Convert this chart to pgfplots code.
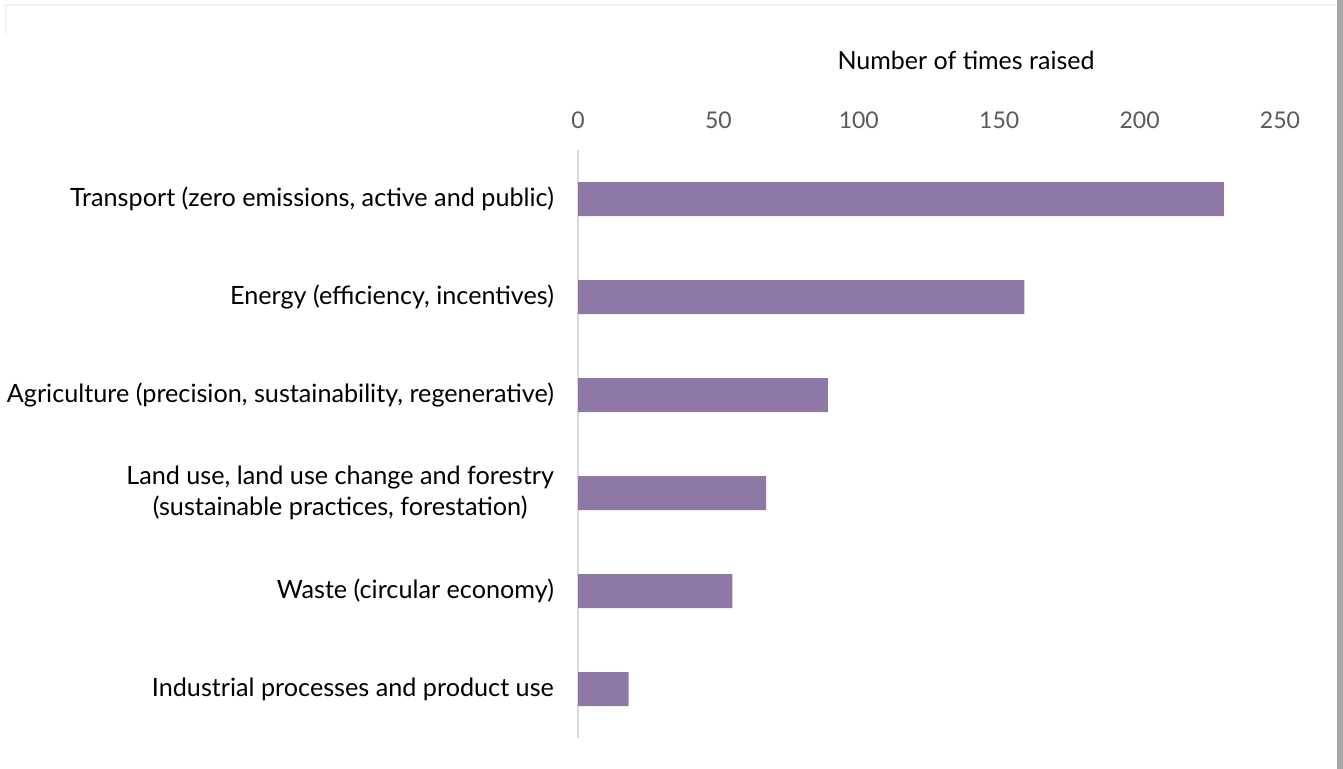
\documentclass[border=0pt]{standalone}
\usepackage{fontspec}
\setmainfont{Lato}
\usepackage{pgfplots}
\pgfplotsset{compat=1.18}
\definecolor{barpurple}{RGB}{142,121,166}
\definecolor{ticktext}{RGB}{89,89,89}
\definecolor{axisgray}{RGB}{217,217,217}
\begin{document}
\begin{tikzpicture}[x=0.5pt,y=0.5pt]
\path[use as bounding box] (0,0) rectangle (1343,769);
\draw[black!5, line width=1pt] (6,735) -- (6,764) -- (1335,764);
\fill[black!35] (1337,0) rectangle (1343,769);
\begin{axis}[
  at={(289pt,15.5pt)}, anchor=south west,
  scale only axis, width=351pt, height=294pt,
  xmin=0, xmax=250, ymin=0.5, ymax=6.5,
  y dir=reverse,
  axis line style={draw=none},
  xtick={0,50,100,150,200,250},
  xticklabel pos=upper,
  ytick={1,2,3,4,5,6},
  yticklabels={Transport (zero emissions{,} active and public),
    Energy (efficiency{,} incentives),
    Agriculture (precision{,} sustainability{,} regenerative),
    {Land use, land use change and forestry\\(sustainable practices, forestation)},
    Waste (circular economy),
    Industrial processes and product use},
  tick style={draw=none},
  major tick length=0pt,
  /pgf/number format/assume math mode=true,
  xticklabel style={font=\fontsize{11.5}{13}\selectfont, text=ticktext, yshift=7pt},
  yticklabel style={font=\fontsize{12.6}{15.5}\selectfont, align=center, xshift=-8.5pt},
  xbar, bar width=17pt,
  clip=false,
]
\draw[axisgray, line width=1pt] (axis cs:0,0.5) -- (axis cs:0,6.5);
\addplot[fill=barpurple, draw=none] coordinates {
  (230,1) (159,2) (89,3) (67,4) (55,5) (18,6)
};
\end{axis}
\node[font=\fontsize{12.5}{15}\selectfont] at (966,709) {Number of times raised};
\end{tikzpicture}
\end{document}
